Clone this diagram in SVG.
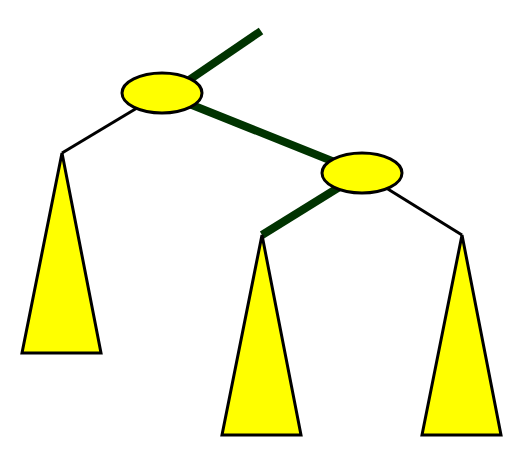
<svg xmlns="http://www.w3.org/2000/svg" width="521" height="469" viewBox="0 0 521 469">
<style>
.thick{stroke:#003300;stroke-width:8;fill:none}
.thin{stroke:#000;stroke-width:3;fill:none}
.node{fill:#ffff00;stroke:#000;stroke-width:3}
</style>
<rect width="521" height="469" fill="#fff"/>
<g id="connectors">
<line class="thick" x1="261" y1="31" x2="170" y2="93"/>
<line class="thick" x1="162" y1="93" x2="362" y2="173"/>
<line class="thick" x1="362" y1="173" x2="262" y2="235"/>
<line class="thin" x1="162" y1="93" x2="62" y2="153"/>
<line class="thin" x1="362" y1="173" x2="462" y2="235"/>
</g>
<g id="tri-left"><polygon class="node" points="62,153 22,353 101,353"/></g>
<g id="tri-mid"><polygon class="node" points="262,235 222,435 301,435"/></g>
<g id="tri-right"><polygon class="node" points="462,235 422,435 501,435"/></g>
<g id="node-root"><ellipse class="node" cx="162" cy="93" rx="40" ry="20"/></g>
<g id="node-child"><ellipse class="node" cx="362" cy="173" rx="40" ry="20"/></g>
</svg>
